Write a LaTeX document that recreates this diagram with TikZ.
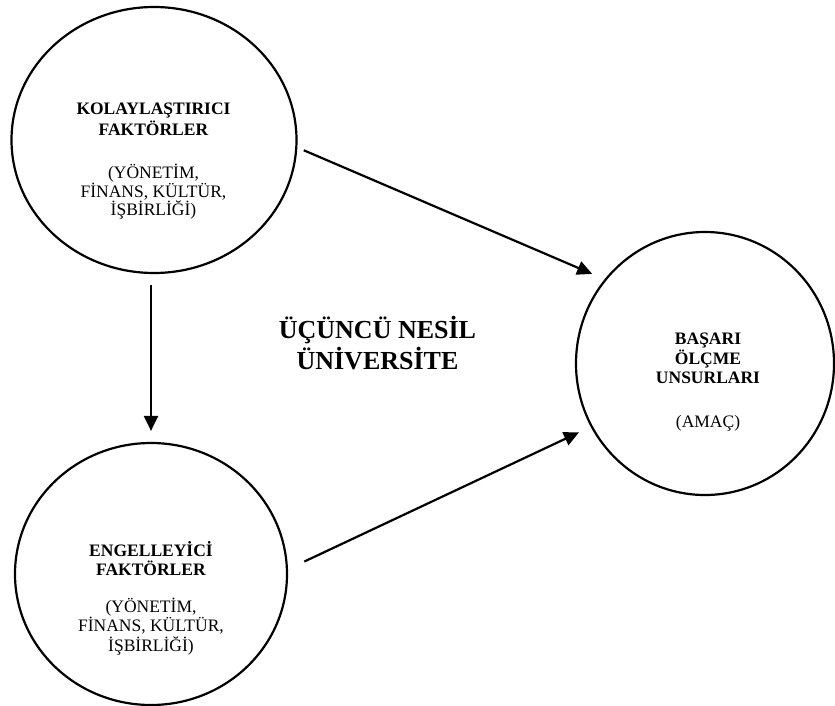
\documentclass[tikz,border=0pt]{standalone}
\usepackage{fontspec}
\setmainfont{Liberation Serif}
\usetikzlibrary{arrows.meta, shapes.geometric}

\tikzset{
  factor/.style={ellipse, draw, line width=2.2pt, inner sep=0pt},
  facttext/.style={align=center, anchor=base, inner sep=0pt,
    font=\fontsize{17.5}{#1}\selectfont},
  facttext/.default=19.5,
}

\begin{document}
\begin{tikzpicture}[x=1pt, y=-1pt, ->, >={Triangle[length=15pt,width=14pt]}, line width=2.2pt]
  \useasboundingbox (0,0) rectangle (835,706);

  \node[factor, minimum width=285pt, minimum height=266pt] (kol) at (154,140) {};
  \node[factor, minimum width=272pt, minimum height=262pt] (eng) at (151,574) {};
  \node[factor, minimum width=258pt, minimum height=263pt] (bas) at (705,363.5) {};

  % base anchor = baseline of the last line
  \node[facttext=17.5] (kolt) at (153.5,215) {\textbf{KOLAYLAŞTIRICI}\\[1.5pt]\textbf{FAKTÖRLER}\\[25.5pt]
    (YÖNETİM,\\FİNANS, KÜLTÜR,\\İŞBİRLİĞİ)};
  \node[facttext] (engt) at (151,651) {\textbf{ENGELLEYİCİ}\\\textbf{FAKTÖRLER}\\[17pt]
    (YÖNETİM,\\FİNANS, KÜLTÜR,\\İŞBİRLİĞİ)};
  \node[facttext] (bast) at (708,427) {\textbf{BAŞARI}\\\textbf{ÖLÇME}\\\textbf{UNSURLARI}\\[24pt]
    (AMAÇ)};

  \node[align=center, anchor=base, inner sep=0pt, font=\fontsize{26}{31}\selectfont\bfseries]
    (nesil) at (377.5,369) {ÜÇÜNCÜ NESİL\\ÜNİVERSİTE};

  \path (kol.south -| eng.north) edge[shorten <=11pt, shorten >=11pt] (eng.north);
  \path (kol.-3) edge[shorten <=7pt, shorten >=13.5pt] (bas.140);
  \path (eng.2) edge[shorten <=18pt, shorten >=13pt] (bas.209);
\end{tikzpicture}
\end{document}
